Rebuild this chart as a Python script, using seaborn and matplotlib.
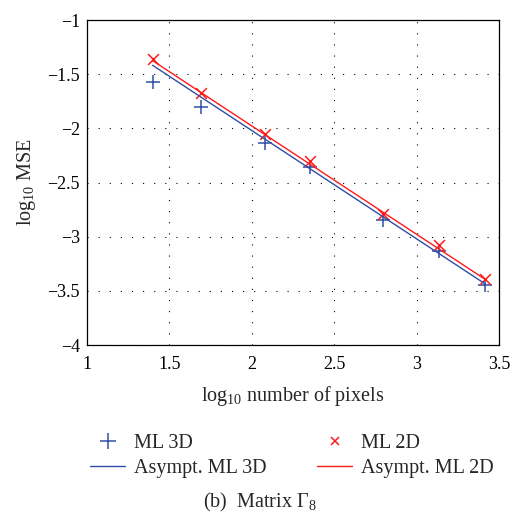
import matplotlib
matplotlib.use("Agg")
import matplotlib.pyplot as plt
import seaborn as sns
import pandas as pd
from matplotlib.lines import Line2D

# Data
log_pixels = [1.398, 1.690, 2.083, 2.352, 2.796, 3.136, 3.415]
ml_3d = [-1.575, -1.806, -2.139, -2.354, -2.847, -3.130, -3.447]
ml_2d = [-1.360, -1.677, -2.055, -2.300, -2.790, -3.080, -3.390]
asym_3d = [-1.418, -1.710, -2.103, -2.372, -2.816, -3.156, -3.435]
asym_2d = [-1.375, -1.668, -2.061, -2.330, -2.774, -3.114, -3.393]
x_ticks = [1, 1.5, 2, 2.5, 3, 3.5]
y_ticks = [-4, -3.5, -3, -2.5, -2, -1.5, -1]
x_tick_labels = ["1", "1.5", "2", "2.5", "3", "3.5"]
y_tick_labels = ["\u22124", "\u22123.5", "\u22123", "\u22122.5", "\u22122", "\u22121.5", "\u22121"]

BLUE = "#2e4fa6"
RED = "#ff1a1a"

sns.set_style("white")
plt.rcParams["font.family"] = ["Liberation Serif", "DejaVu Serif"]
plt.rcParams["mathtext.fontset"] = "custom"
plt.rcParams["mathtext.rm"] = "Liberation Serif"
plt.rcParams["mathtext.it"] = "Liberation Serif:italic"
plt.rcParams["axes.unicode_minus"] = True

df = pd.DataFrame({"x": log_pixels, "ml3d": ml_3d, "ml2d": ml_2d,
                   "a3d": asym_3d, "a2d": asym_2d})

W, H = 515, 517
fig = plt.figure(figsize=(W / 100, H / 100), dpi=100)
ax = fig.add_axes([87 / W, 1 - 345 / H, (499 - 87) / W, (345 - 20) / H])

sns.lineplot(data=df, x="x", y="a3d", ax=ax, color=BLUE, linewidth=1.0)
sns.lineplot(data=df, x="x", y="a2d", ax=ax, color=RED, linewidth=1.0)
sns.scatterplot(data=df, x="x", y="ml3d", ax=ax, marker="+", color=BLUE,
                s=110, linewidth=1.1)
sns.scatterplot(data=df, x="x", y="ml2d", ax=ax, marker="x", color=RED,
                s=60, linewidth=1.1)

ax.set_xlim(1, 3.5)
ax.set_ylim(-4, -1)
ax.set_xticks(x_ticks)
ax.set_yticks(y_ticks)
ax.set_xticklabels(x_tick_labels)
ax.set_yticklabels(y_tick_labels)
ax.tick_params(direction="in", length=4, width=0.8, labelsize=13, colors="black",
               top=False, right=False)
ax.tick_params(axis="x", pad=8)
ax.tick_params(axis="y", pad=5)
ax.grid(True, color="black", linestyle=(0, (1, 9)), linewidth=0.8)
for sp in ax.spines.values():
    sp.set_visible(True)
    sp.set_color("black")
    sp.set_linewidth(0.9)

ax.set_xlabel(r"log$_{10}$ number of pixels", fontsize=14.5, labelpad=8)
ax.set_ylabel(r"log$_{10}$ MSE", fontsize=14.5, labelpad=7)

handles = [
    Line2D([], [], color=BLUE, marker="+", linestyle="None", markersize=11, markeredgewidth=1.1),
    Line2D([], [], color=BLUE, linewidth=1.0),
    Line2D([], [], color=RED, marker="x", linestyle="None", markersize=6, markeredgewidth=1.1),
    Line2D([], [], color=RED, linewidth=1.0),
]
labels = ["ML 3D", "Asympt. ML 3D", "ML 2D", "Asympt. ML 2D"]
fig.legend(handles, labels, ncol=2, frameon=False, fontsize=14.5,
           loc="upper left", bbox_to_anchor=(90 / W, 1 - 434 / H),
           borderpad=0, borderaxespad=0, columnspacing=2.5,
           handlelength=1.75, handletextpad=0.45, labelspacing=0.3)

fig.text(260 / W, 1 - 502 / H, r"(b)  Matrix $\mathrm{\Gamma}_8$", ha="center", va="center", fontsize=14.5)

fig.savefig("out.png", dpi=100)
